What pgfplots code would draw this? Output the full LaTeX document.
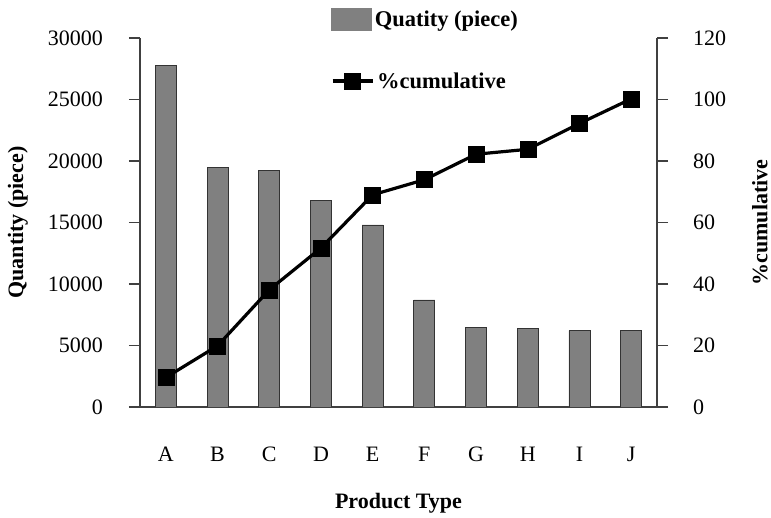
\documentclass[border=0pt]{standalone}
\usepackage{fontspec}
\setmainfont{Liberation Serif}
\usepackage{pgfplots}
\pgfplotsset{compat=1.18}
\definecolor{barfill}{HTML}{808080}
\definecolor{axcol}{HTML}{404040}
\begin{document}
\begin{tikzpicture}
\useasboundingbox (-140pt,-111pt) rectangle (631pt,407pt);
\pgfplotsset{
  every axis/.append style={
    scale only axis, width=517pt, height=369pt,
    at={(0pt,0pt)}, anchor=south west,
    xmin=-0.5, xmax=9.5,
    font=\fontsize{22}{26}\selectfont,
    /pgf/number format/assume math mode=true,
    /pgf/number format/1000 sep={},
    scaled y ticks=false,
    tick align=outside,
    axis line style={axcol, line width=1.1pt},
    every tick/.style={axcol, line width=1.1pt},
    major tick length=11pt,
    minor tick length=11pt,
  }
}
\begin{axis}[
  axis y line*=left,
  axis x line*=bottom,
  ymin=0, ymax=30000,
  ytick={0,5000,...,30000},
  xtick={0,...,9},
  xticklabels={A,B,C,D,E,F,G,H,I,J},
  xtick style={draw=none},
  minor xtick={-0.5,0.5,...,9.5},
  yticklabel style={inner sep=0pt, xshift=-26pt},
  xticklabel style={inner sep=0pt, yshift=-29pt, anchor=north},
  xlabel={\bfseries Product Type},
  xlabel style={at={(axis description cs:0.5,-0.26)}, anchor=center},
  ylabel={\bfseries Quantity (piece)},
  ylabel style={at={(axis description cs:-0.236,0.5)}, anchor=center},
  legend style={draw=none, fill=none, at={(axis description cs:0.369,1.0515)}, anchor=west, inner sep=0pt, nodes={inner sep=3pt, font=\fontsize{22.5}{26}\selectfont\bfseries}},
  legend image code/.code={\fill[barfill] (0pt,-11pt) rectangle (40pt,11pt);},
]
\addplot[ybar, bar width=0.406, fill=barfill, draw=black!80, line width=0.8pt] coordinates {
(0,27800) (1,19510) (2,19240) (3,16800) (4,14800) (5,8700) (6,6455) (7,6375) (8,6210) (9,6210)};
\addlegendentry{Quatity (piece)}
\end{axis}
\begin{axis}[
  axis y line*=right,
  axis x line=none,
  ymin=0, ymax=120,
  ytick={0,20,...,120},
  yticklabel style={inner sep=0pt, xshift=25pt},
  ylabel={\bfseries \%cumulative},
  ylabel style={at={(axis description cs:1.199,0.5)}, anchor=center},
  legend style={draw=none, fill=none, at={(axis description cs:0.369,0.8835)}, anchor=west, inner sep=0pt, nodes={inner sep=3pt, font=\fontsize{22.5}{26}\selectfont\bfseries}},
  legend image code/.code={\draw[#1, mark repeat=2, mark phase=2] plot coordinates {(0pt,0pt) (20pt,0pt) (40pt,0pt)};},
]
\addplot[black, line width=3.2pt, mark=square*, mark size=8pt, mark options={solid, line width=0.5pt}] coordinates {
(0,9.6) (1,19.9) (2,38.1) (3,51.7) (4,69.0) (5,73.9) (6,82.2) (7,83.8) (8,92.2) (9,100.2)};
\addlegendentry{\%cumulative}
\end{axis}
\end{tikzpicture}
\end{document}
